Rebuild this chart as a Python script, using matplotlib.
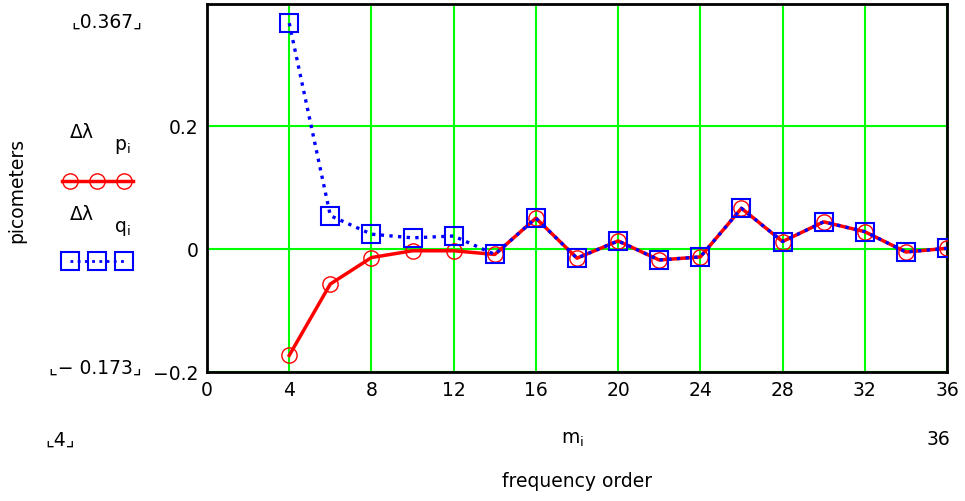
import matplotlib.pyplot as plt
from matplotlib.lines import Line2D

# frequency order m_i and wavelength deviations (picometers)
m = [4, 6, 8, 10, 12, 14, 16, 18, 20, 22, 24, 26, 28, 30, 32, 34, 36]
dl_p = [-0.173, -0.057, -0.014, -0.003, -0.003, -0.009, 0.050, -0.015, 0.013,
        -0.018, -0.013, 0.066, 0.012, 0.044, 0.028, -0.005, 0.001]
dl_q = [0.367, 0.054, 0.024, 0.018, 0.021, -0.009, 0.050, -0.015, 0.013,
        -0.018, -0.013, 0.066, 0.012, 0.044, 0.028, -0.005, 0.001]

x_ticks = [0, 4, 8, 12, 16, 20, 24, 28, 32, 36]
y_ticks = [-0.2, 0, 0.2]
y_tick_labels = ["−0.2", "0", "0.2"]

plt.rcParams['font.family'] = ['DejaVu Sans']
fs = 13.5

fig = plt.figure(figsize=(9.65, 5.02), dpi=100)
W, H = 965, 502
ax = fig.add_axes([207 / W, 1 - 373 / H, (947 - 207) / W, (373 - 5) / H])

ax.plot(m, dl_p, color='red', lw=2.5, marker='o', ms=11, mfc='none',
        mec='red', mew=1.0, zorder=3)
ax.plot(m, dl_q, color='blue', lw=2.4, ls=(0, (1, 1.6)), marker='s', ms=13,
        mfc='none', mec='blue', mew=1.5, zorder=4)

ax.set_xlim(0, 36)
ax.set_ylim(-0.2, 0.398)
ax.set_xticks(x_ticks)
ax.set_yticks(y_ticks)
ax.set_yticklabels(y_tick_labels)
ax.grid(True, color='#00ff00', lw=1.5)
ax.set_axisbelow(True)
ax.tick_params(length=0, labelsize=fs, pad=6)
for s in ax.spines.values():
    s.set_linewidth(2)
    s.set_color('black')


def ftext(x, y, s, **kw):
    fig.text(x / W, 1 - y / H, s, fontsize=fs, **kw)


# Mathcad limit labels
ftext(107, 22, "⌞0.367⌟", ha='center', va='center')
ftext(95, 368, "⌞− 0.173⌟", ha='center', va='center')
ftext(60, 440, "⌞4⌟", ha='center', va='center')
ftext(950, 440, "36", ha='right', va='center')
ftext(572, 440, r"$\mathregular{m_i}$", ha='center', va='center')
ftext(577, 482, "frequency order", ha='center', va='center')
ftext(17, 190, "picometers", ha='center', va='center', rotation=90)

# legend
ftext(82, 133, "Δλ", ha='center', va='center')
ftext(122, 147, r"$\mathregular{p_i}$", ha='center', va='center')
ftext(82, 214, "Δλ", ha='center', va='center')
ftext(122, 228, r"$\mathregular{q_i}$", ha='center', va='center')

fig.add_artist(Line2D([62 / W, 133 / W], [1 - 182 / H, 1 - 182 / H],
                      color='red', lw=2.5, transform=fig.transFigure))
fig.add_artist(Line2D([70 / W, 97 / W, 124 / W], [1 - 182 / H] * 3,
                      ls='none', marker='o', ms=11, mfc='none', mec='red',
                      mew=1.0, transform=fig.transFigure))
fig.add_artist(Line2D([70 / W, 97 / W, 124 / W], [1 - 262 / H] * 3,
                      color='blue', lw=2, ls=(0, (1, 1.6)), marker='s', ms=13,
                      mfc='none', mec='blue', mew=1.5,
                      transform=fig.transFigure))

fig.savefig("out.png", dpi=100)
